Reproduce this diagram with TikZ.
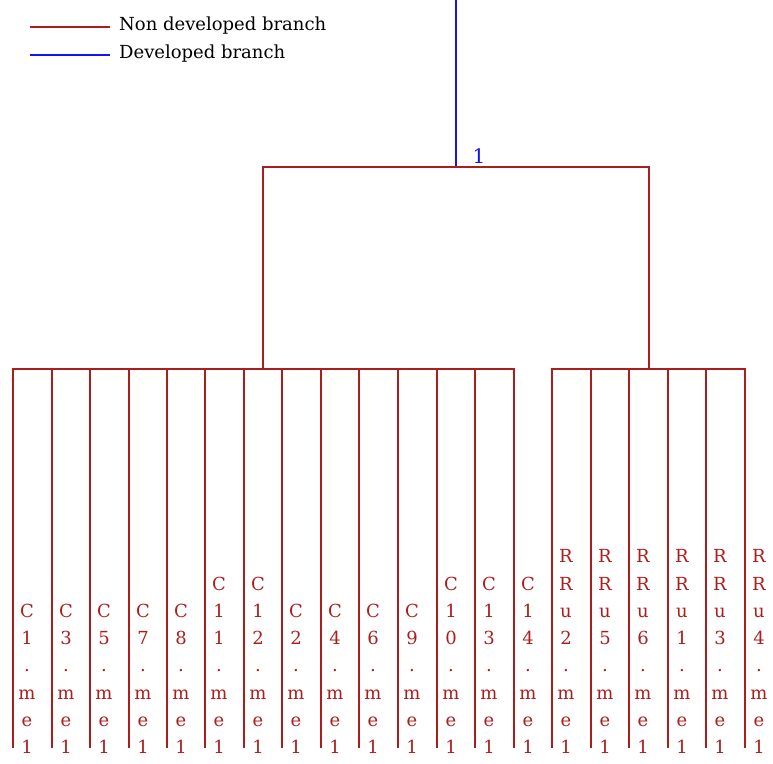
\documentclass[tikz,border=0pt]{standalone}
\usepackage{fontspec}
\setmainfont{DejaVu Serif}
\usepackage{tikz}
\definecolor{brred}{RGB}{172, 30, 30}
\definecolor{brblue}{RGB}{20, 20, 240}
\tikzstyle{ndev}=[color=brred,line width=1.1pt]
\tikzstyle{dev}=[color=brblue,line width=1.1pt]
\tikzstyle{legtext}=[anchor=base west,inner sep=0pt,text=black,
  font=\fontsize{18}{20}\selectfont]
\tikzstyle{idx}=[anchor=base,inner sep=0pt,text=brblue,
  font=\fontsize{20}{22}\selectfont]
\tikzstyle{leaf}=[anchor=south,inner sep=0pt,align=center,text=brred,
  font=\fontsize{18}{27.3}\selectfont]

\begin{document}
\begin{tikzpicture}[x=1pt,y=-1pt]
    \useasboundingbox (0,0) rectangle (773,763);
    \coordinate (ndA) at (30,27);
    \coordinate (ndB) at (110,27);
    \coordinate (dA) at (30,55);
    \coordinate (dB) at (110,55);
    \node [style=legtext] (ndtxt) at (119,30) {Non developed branch};
    \node [style=legtext] (dtxt) at (119,58) {Developed branch};
    \draw [style=ndev] (ndA) to (ndB);
    \draw [style=dev] (dA) to (dB);

    \coordinate (top) at (456,0);
    \coordinate (root) at (456,167);
    \node [style=idx] (rootidx) at (479,163) {1};
    \coordinate (gl) at (263,369);
    \coordinate (gr) at (649,369);
    \draw [style=dev] (top) to (root);
    \draw [style=ndev] (root) -| (gl);
    \draw [style=ndev] (root) -| (gr);

    \coordinate (c1) at (13,748);
    \coordinate (c3) at (52,748);
    \coordinate (c5) at (90,748);
    \coordinate (c7) at (129,748);
    \coordinate (c8) at (167,748);
    \coordinate (c11) at (205,748);
    \coordinate (c12) at (244,748);
    \coordinate (c2) at (282,748);
    \coordinate (c4) at (321,748);
    \coordinate (c6) at (359,748);
    \coordinate (c9) at (398,748);
    \coordinate (c10) at (437,748);
    \coordinate (c13) at (475,748);
    \coordinate (c14) at (514,748);
    \coordinate (rru2) at (552,748);
    \coordinate (rru5) at (591,748);
    \coordinate (rru6) at (629,748);
    \coordinate (rru1) at (668,748);
    \coordinate (rru3) at (706,748);
    \coordinate (rru4) at (745,748);

    \node [style=leaf] (c1txt) at (27,754) {C\\1\\.\\m\\e\\1};
    \node [style=leaf] (c3txt) at (66,754) {C\\3\\.\\m\\e\\1};
    \node [style=leaf] (c5txt) at (104,754) {C\\5\\.\\m\\e\\1};
    \node [style=leaf] (c7txt) at (143,754) {C\\7\\.\\m\\e\\1};
    \node [style=leaf] (c8txt) at (181,754) {C\\8\\.\\m\\e\\1};
    \node [style=leaf] (c11txt) at (219,754) {C\\1\\1\\.\\m\\e\\1};
    \node [style=leaf] (c12txt) at (258,754) {C\\1\\2\\.\\m\\e\\1};
    \node [style=leaf] (c2txt) at (296,754) {C\\2\\.\\m\\e\\1};
    \node [style=leaf] (c4txt) at (335,754) {C\\4\\.\\m\\e\\1};
    \node [style=leaf] (c6txt) at (373,754) {C\\6\\.\\m\\e\\1};
    \node [style=leaf] (c9txt) at (412,754) {C\\9\\.\\m\\e\\1};
    \node [style=leaf] (c10txt) at (451,754) {C\\1\\0\\.\\m\\e\\1};
    \node [style=leaf] (c13txt) at (489,754) {C\\1\\3\\.\\m\\e\\1};
    \node [style=leaf] (c14txt) at (528,754) {C\\1\\4\\.\\m\\e\\1};
    \node [style=leaf] (rru2txt) at (566,754) {R\\R\\u\\2\\.\\m\\e\\1};
    \node [style=leaf] (rru5txt) at (605,754) {R\\R\\u\\5\\.\\m\\e\\1};
    \node [style=leaf] (rru6txt) at (643,754) {R\\R\\u\\6\\.\\m\\e\\1};
    \node [style=leaf] (rru1txt) at (682,754) {R\\R\\u\\1\\.\\m\\e\\1};
    \node [style=leaf] (rru3txt) at (720,754) {R\\R\\u\\3\\.\\m\\e\\1};
    \node [style=leaf] (rru4txt) at (759,754) {R\\R\\u\\4\\.\\m\\e\\1};

    \draw [style=ndev] (gl) -| (c1);
    \draw [style=ndev] (gl) -| (c3);
    \draw [style=ndev] (gl) -| (c5);
    \draw [style=ndev] (gl) -| (c7);
    \draw [style=ndev] (gl) -| (c8);
    \draw [style=ndev] (gl) -| (c11);
    \draw [style=ndev] (gl) -| (c12);
    \draw [style=ndev] (gl) -| (c2);
    \draw [style=ndev] (gl) -| (c4);
    \draw [style=ndev] (gl) -| (c6);
    \draw [style=ndev] (gl) -| (c9);
    \draw [style=ndev] (gl) -| (c10);
    \draw [style=ndev] (gl) -| (c13);
    \draw [style=ndev] (gl) -| (c14);
    \draw [style=ndev] (gr) -| (rru2);
    \draw [style=ndev] (gr) -| (rru5);
    \draw [style=ndev] (gr) -| (rru6);
    \draw [style=ndev] (gr) -| (rru1);
    \draw [style=ndev] (gr) -| (rru3);
    \draw [style=ndev] (gr) -| (rru4);
  \end{tikzpicture}
\end{document}
